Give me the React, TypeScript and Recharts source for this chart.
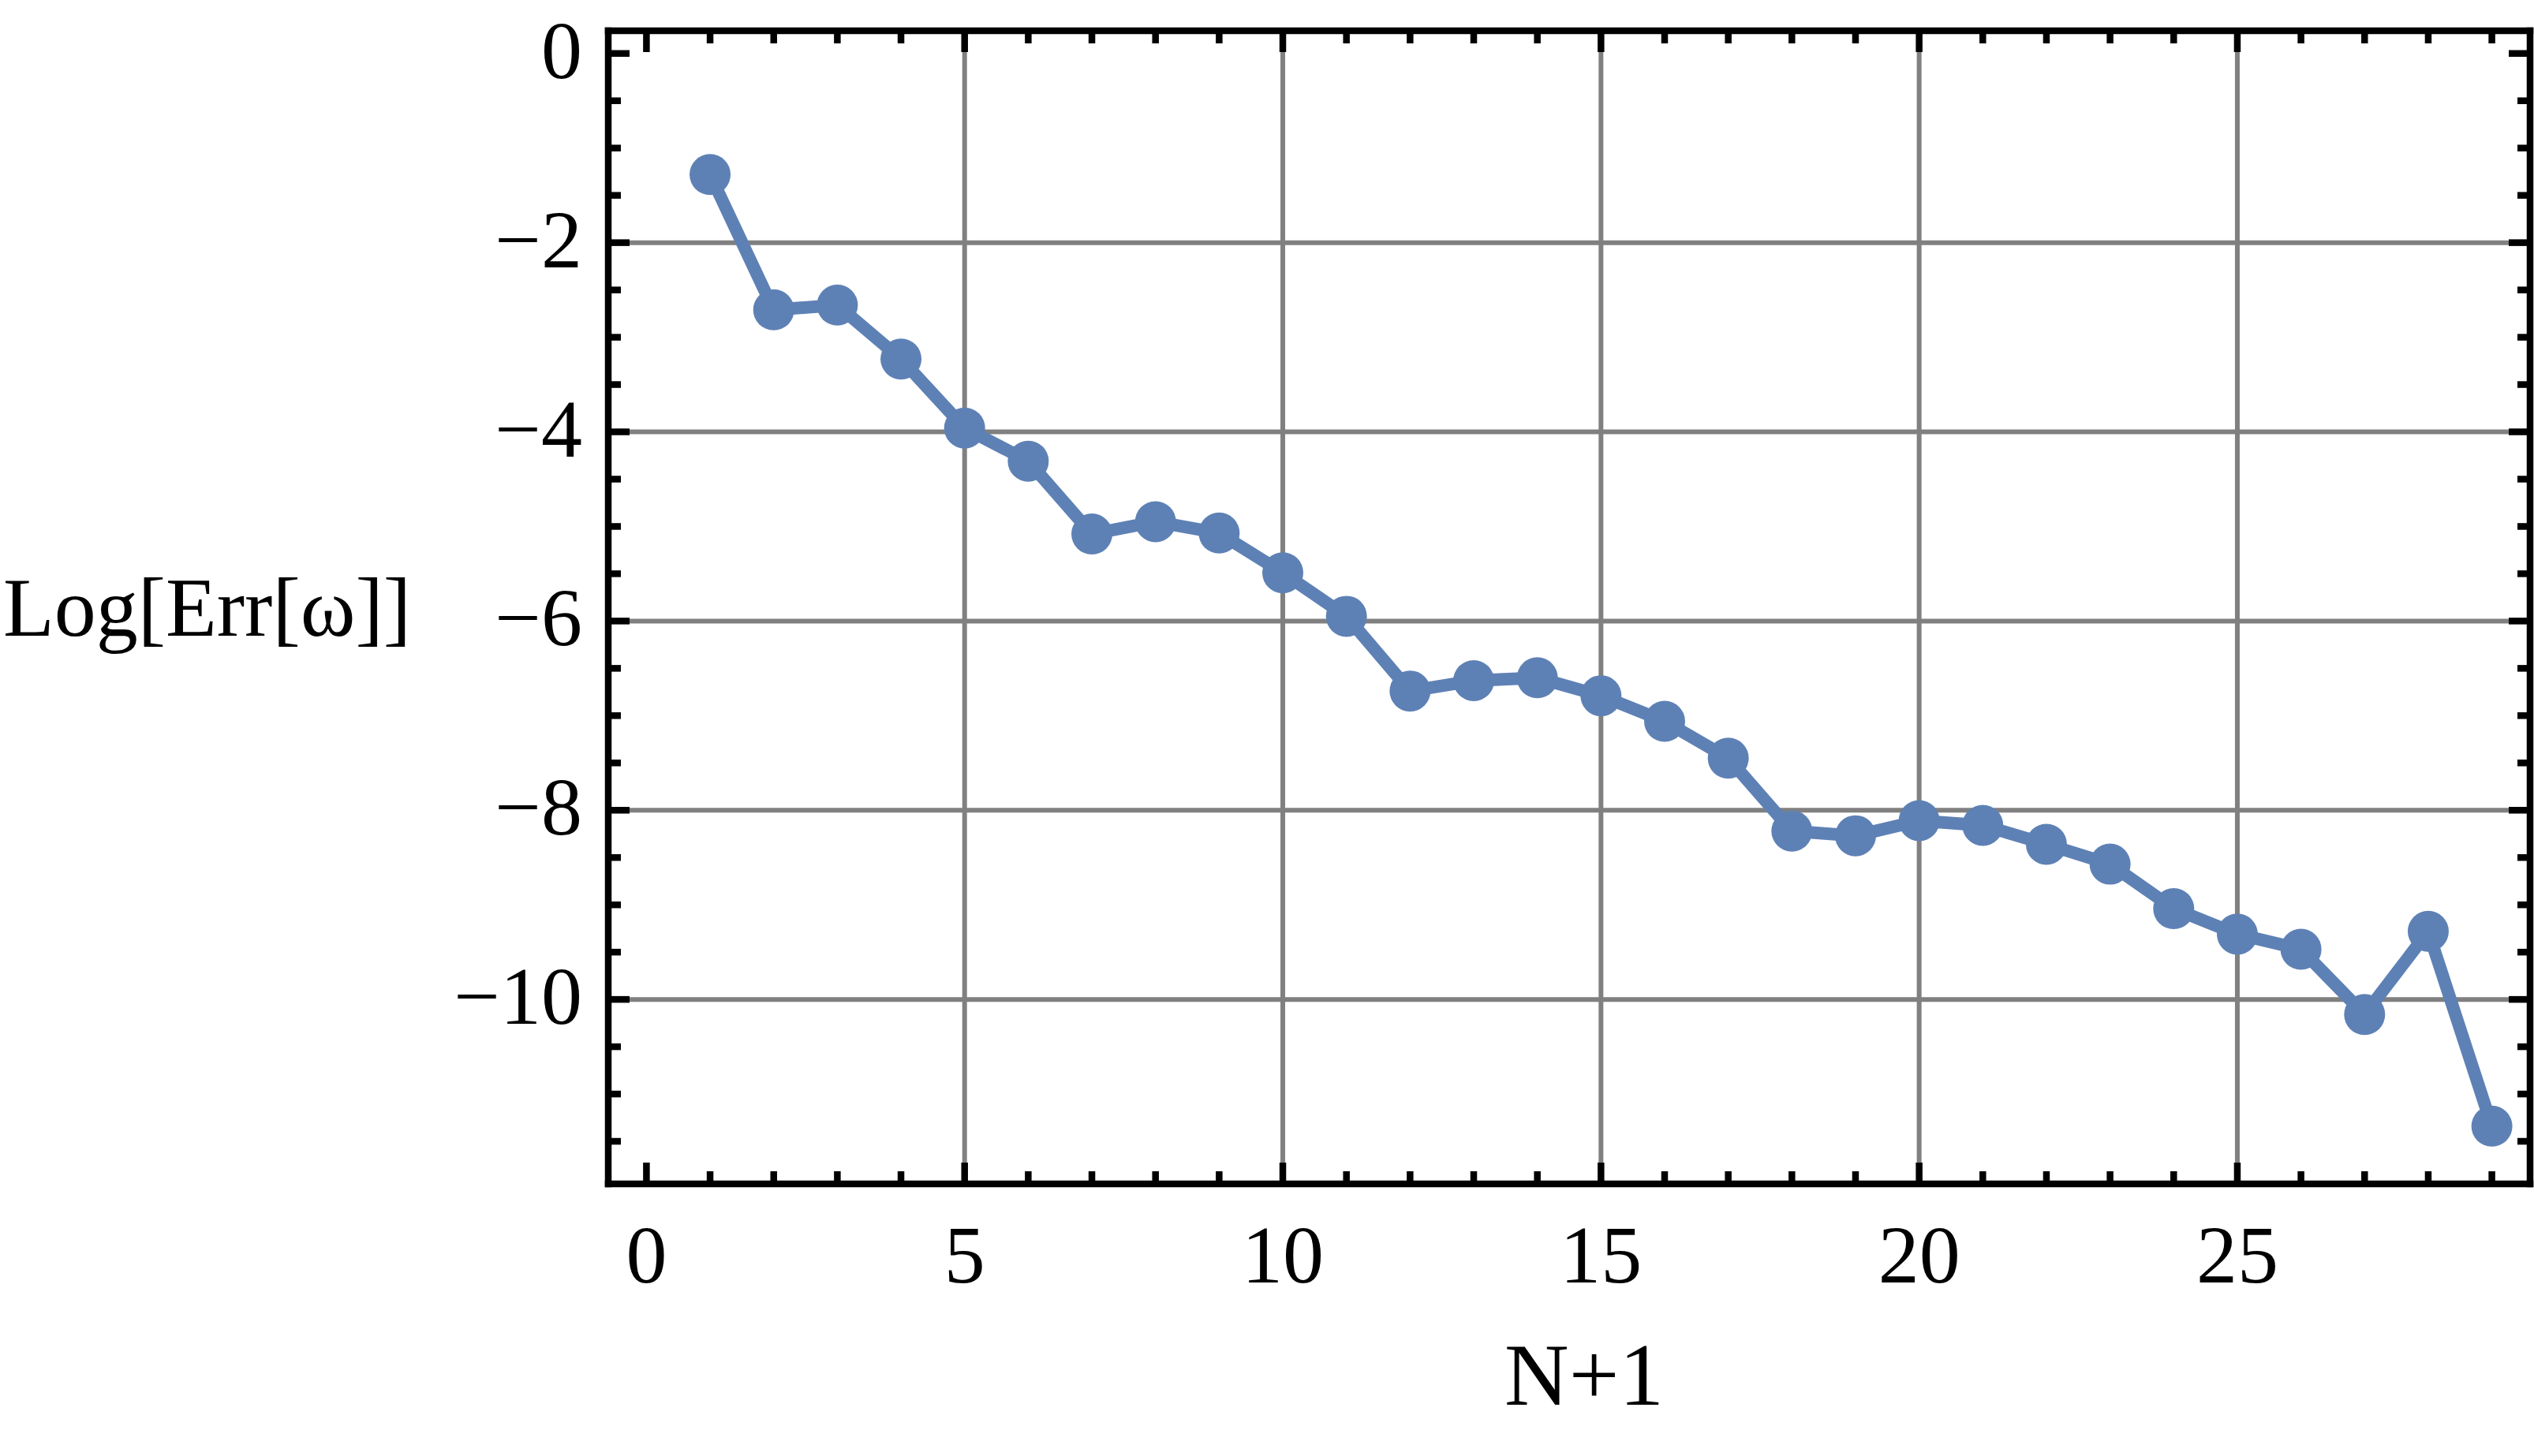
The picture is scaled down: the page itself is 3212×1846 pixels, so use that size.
import { LineChart, Line, XAxis, YAxis, ReferenceLine, Label } from 'recharts';

// N+1 values and Log[Err[ω]]
const nValues = [1, 2, 3, 4, 5, 6, 7, 8, 9, 10, 11, 12, 13, 14, 15, 16, 17, 18, 19, 20, 21, 22, 23, 24, 25, 26, 27, 28, 29];
const logErr = [
  -1.28, -2.71, -2.66, -3.23, -3.96, -4.31, -5.08, -4.95, -5.07, -5.49,
  -5.95, -6.74, -6.63, -6.6, -6.79, -7.06, -7.45, -8.22, -8.27, -8.11,
  -8.16, -8.36, -8.57, -9.04, -9.31, -9.47, -10.16, -9.28, -11.34
];

const xMajor = [0, 5, 10, 15, 20, 25];
const xTicks = [0, 1, 2, 3, 4, 5, 6, 7, 8, 9, 10, 11, 12, 13, 14, 15, 16, 17, 18, 19, 20, 21, 22, 23, 24, 25, 26, 27, 28, 29];
const yMajor = [0, -2, -4, -6, -8, -10];
const yTicks = [0, -0.5, -1, -1.5, -2, -2.5, -3, -3.5, -4, -4.5, -5, -5.5, -6, -6.5, -7, -7.5, -8, -8.5, -9, -9.5, -10, -10.5, -11, -11.5];
const xGrid = [5, 10, 15, 20, 25];
const yGrid = [-2, -4, -6, -8, -10];

const xDomain = [-0.6, 29.6];
const yDomain = [-11.95, 0.24];

const data = nValues.map((n, i) => ({ n, err: logErr[i] }));

const FONT = "'Liberation Serif', 'DejaVu Serif', serif";
const BLUE = '#5E81B5';
const MAJOR = 27;
const MINOR = 16;

const fmtY = (v: number) => (v < 0 ? '\u2212' + Math.abs(v) : String(v));

const BottomTick = ({ x, y, payload }: any) => {
  const major = xMajor.includes(payload.value);
  return (
    <g>
      <line x1={x} x2={x} y1={y} y2={y - (major ? MAJOR : MINOR)} stroke="#000" strokeWidth={8.5} />
      {major && (
        <text x={x} y={y + 125} textAnchor="middle" fontFamily={FONT} fontSize={104} fill="#000">
          {payload.value}
        </text>
      )}
    </g>
  );
};

const TopTick = ({ x, y, payload }: any) => {
  const major = xMajor.includes(payload.value);
  return <line x1={x} x2={x} y1={y} y2={y + (major ? MAJOR : MINOR)} stroke="#000" strokeWidth={8.5} />;
};

const LeftTick = ({ x, y, payload }: any) => {
  const major = yMajor.includes(payload.value);
  return (
    <g>
      <line x1={x} x2={x + (major ? MAJOR : MINOR)} y1={y} y2={y} stroke="#000" strokeWidth={8.5} />
      {major && (
        <text x={x - 33} y={y + 31} textAnchor="end" fontFamily={FONT} fontSize={104} fill="#000">
          {fmtY(payload.value)}
        </text>
      )}
    </g>
  );
};

const RightTick = ({ x, y, payload }: any) => {
  const major = yMajor.includes(payload.value);
  return <line x1={x} x2={x - (major ? MAJOR : MINOR)} y1={y} y2={y} stroke="#000" strokeWidth={8.5} />;
};

const frame = { stroke: '#000', strokeWidth: 8.5, strokeLinecap: 'square' as const };

export default function App() {
  return (
    <div style={{ position: 'absolute', left: 0, top: 0, background: '#fff' }}>
      <LineChart width={3212} height={1846} data={data} margin={{ top: 0, right: 0, bottom: 0, left: 0 }}>
        {xGrid.map((v) => (
          <ReferenceLine key={'gx' + v} x={v} xAxisId="b" yAxisId="l" stroke="#808080" strokeWidth={6} />
        ))}
        {yGrid.map((v) => (
          <ReferenceLine key={'gy' + v} y={v} xAxisId="b" yAxisId="l" stroke="#808080" strokeWidth={6} />
        ))}
        <Line
          xAxisId="b"
          yAxisId="l"
          type="linear"
          dataKey="err"
          stroke={BLUE}
          strokeWidth={16}
          dot={{ r: 26, fill: BLUE, stroke: 'none', strokeWidth: 0 }}
          activeDot={false}
          isAnimationActive={false}
        />
        <XAxis
          xAxisId="b"
          orientation="bottom"
          type="number"
          dataKey="n"
          domain={xDomain}
          allowDataOverflow
          ticks={xTicks}
          interval={0}
          height={345}
          tickSize={0}
          tickMargin={0}
          tickLine={false}
          axisLine={frame}
          tick={<BottomTick />}
        >
          <Label
            content={({ viewBox }: any) => (
              <text
                x={viewBox.x + viewBox.width / 2 + 19}
                y={viewBox.y + 280}
                textAnchor="middle"
                fontFamily={FONT}
                fontSize={113}
                fill="#000"
              >
                N+1
              </text>
            )}
          />
        </XAxis>
        <XAxis
          xAxisId="t"
          orientation="top"
          type="number"
          dataKey="n"
          domain={xDomain}
          allowDataOverflow
          ticks={xTicks}
          interval={0}
          height={39}
          tickSize={0}
          tickMargin={0}
          tickLine={false}
          axisLine={frame}
          tick={<TopTick />}
        />
        <YAxis
          yAxisId="l"
          orientation="left"
          type="number"
          domain={yDomain}
          allowDataOverflow
          ticks={yTicks}
          interval={0}
          width={771}
          tickSize={0}
          tickMargin={0}
          tickLine={false}
          axisLine={frame}
          tick={<LeftTick />}
        >
          <Label
            content={({ viewBox }: any) => (
              <text
                x={4}
                y={viewBox.y + 767}
                textAnchor="start"
                fontFamily={FONT}
                fontSize={106}
                fill="#000"
              >
                Log[Err[ω]]
              </text>
            )}
          />
        </YAxis>
        <YAxis
          yAxisId="r"
          orientation="right"
          type="number"
          domain={yDomain}
          allowDataOverflow
          ticks={yTicks}
          interval={0}
          width={5}
          tickSize={0}
          tickMargin={0}
          tickLine={false}
          axisLine={frame}
          tick={<RightTick />}
        />
      </LineChart>
    </div>
  );
}
